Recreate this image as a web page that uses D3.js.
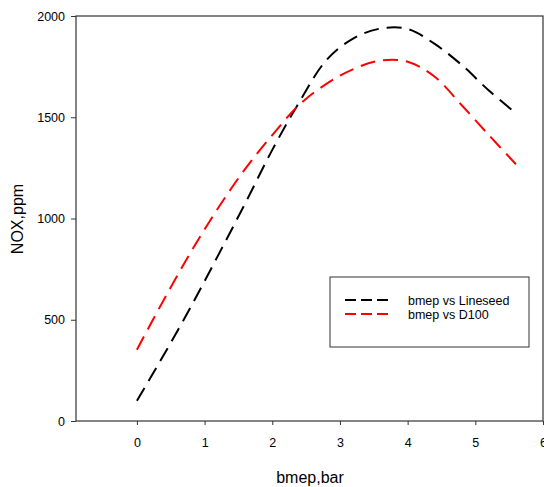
<!DOCTYPE html>
<html>
<head>
<meta charset="utf-8">
<script src="https://cdn.jsdelivr.net/npm/d3@7"></script>
<style>
  html, body { margin: 0; padding: 0; background: #fff; }
  svg { display: block; font-family: "Liberation Sans", Arial, sans-serif; }
</style>
</head>
<body>
<svg id="chart" width="544" height="487"></svg>
<script>
const bmep = [0, 0.4, 0.8, 1.2, 1.6, 2.0, 2.4, 2.8, 3.2, 3.6, 4.0, 4.4, 4.8, 5.2, 5.6];
const noxLineseed = [100, 328, 566, 818, 1075, 1339, 1575, 1782, 1890, 1938, 1936, 1862, 1758, 1632, 1520];
const noxD100 = [352, 600, 836, 1052, 1245, 1412, 1562, 1665, 1738, 1780, 1774, 1700, 1559, 1412, 1268];
const seriesNames = ["bmep vs Lineseed", "bmep vs D100"];
const seriesColors = ["#000000", "#ff0000"];
const xTicks = [0, 1, 2, 3, 4, 5, 6];
const yTicks = [0, 500, 1000, 1500, 2000];

(function () {
const svg = d3.select("#chart");
const pl = 76, pr = 543, pt = 16, pb = 421;
const x = d3.scaleLinear().domain([-0.9, 6]).range([pl, pr]);
const y = d3.scaleLinear().domain([0, 2000]).range([pb, pt]);

// frame
svg.append("rect").attr("x", pl).attr("y", pt)
  .attr("width", pr - pl).attr("height", pb - pt)
  .attr("fill", "none").attr("stroke", "#333").attr("stroke-width", 1.2);

// y axis
const yAxis = svg.append("g").attr("transform", `translate(${pl},0)`)
  .call(d3.axisLeft(y).tickValues(yTicks).tickSize(5).tickPadding(6).tickFormat(d3.format("d")));
yAxis.select(".domain").remove();
yAxis.selectAll("line").attr("stroke", "#333");
yAxis.selectAll("text").attr("font-size", "12.5px").attr("fill", "#000")
  .attr("font-family", "'Liberation Sans', Arial, sans-serif");

// x axis
const xAxis = svg.append("g").attr("transform", `translate(0,${pb})`)
  .call(d3.axisBottom(x).tickValues(xTicks).tickSize(4).tickPadding(13).tickFormat(d3.format("d")));
xAxis.select(".domain").remove();
xAxis.selectAll("line").attr("stroke", "#333");
xAxis.selectAll("text").attr("font-size", "12.5px").attr("fill", "#000")
  .attr("font-family", "'Liberation Sans', Arial, sans-serif");

// titles
svg.append("text").attr("x", 310).attr("y", 483).attr("text-anchor", "middle")
  .attr("font-size", "16px").text("bmep,bar");
svg.append("text").attr("transform", "translate(23,219) rotate(-90)")
  .attr("text-anchor", "middle").attr("font-size", "16px").text("NOX,ppm");

// lines
const line = d3.line().x(d => x(d[0])).y(d => y(d[1])).curve(d3.curveCatmullRom.alpha(0.5));
const data = [noxLineseed, noxD100];
data.forEach((vals, i) => {
  svg.append("path")
    .datum(bmep.map((b, j) => [b, vals[j]]))
    .attr("d", line)
    .attr("fill", "none")
    .attr("stroke", seriesColors[i])
    .attr("stroke-width", 2)
    .attr("stroke-dasharray", "15,8");
});

// legend
const lg = svg.append("g");
lg.append("rect").attr("x", 330).attr("y", 277).attr("width", 199).attr("height", 70)
  .attr("fill", "#fff").attr("stroke", "#333").attr("stroke-width", 1);
seriesNames.forEach((name, i) => {
  const ly = 300 + i * 14;
  lg.append("line").attr("x1", 345).attr("x2", 388).attr("y1", ly).attr("y2", ly)
    .attr("stroke", seriesColors[i]).attr("stroke-width", 2).attr("stroke-dasharray", "11,5");
  lg.append("text").attr("x", 408).attr("y", ly + 4.5).attr("font-size", "12.5px").text(name);
});
})();
</script>
</body>
</html>
